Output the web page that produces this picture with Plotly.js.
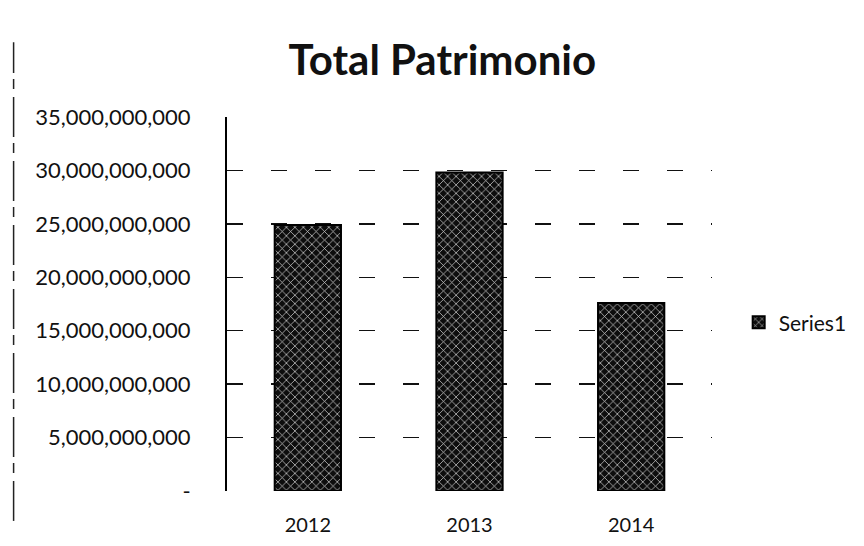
<!DOCTYPE html>
<html>
<head>
<meta charset="utf-8">
<script src="https://cdn.plot.ly/plotly-3.0.1.min.js"></script>
<style>html,body{margin:0;padding:0;background:#fff;}#chart{width:864px;height:546px;}</style>
</head>
<body>
<div id="chart"></div>
<script>
var years = ['2012', '2013', '2014'];
var patrimonio = [24.9e9, 29.8e9, 17.6e9];
var seriesName = 'Series1';
var yTickVals = [0, 5e9, 10e9, 15e9, 20e9, 25e9, 30e9, 35e9];
var yTickText = ['-', '5,000,000,000', '10,000,000,000', '15,000,000,000', '20,000,000,000', '25,000,000,000', '30,000,000,000', '35,000,000,000'];

var FONT = 'Lato, "Open Sans", "DejaVu Sans", sans-serif';

var trace = {
  type: 'bar',
  x: years,
  y: patrimonio,
  name: seriesName,
  showlegend: true,
  width: 0.41,
  marker: {
    color: '#0d0d0d',
    line: {color: '#000', width: 2},
    pattern: {shape: 'x', fgcolor: '#d8d8d8', bgcolor: '#0d0d0d', size: 6, solidity: 0.22}
  },
  hoverinfo: 'x+y'
};

var layout = {
  width: 864,
  height: 546,
  paper_bgcolor: '#fff',
  plot_bgcolor: '#fff',
  margin: {l: 227, r: 143, t: 117, b: 55},
  font: {family: FONT, color: '#111', size: 21},
  title: {
    text: '<b>Total Patrimonio</b>',
    font: {family: FONT, size: 42, color: '#111'},
    xref: 'container', yref: 'container',
    x: 0.512, y: 0.89, xanchor: 'center', yanchor: 'middle'
  },
  bargap: 0.59,
  xaxis: {
    type: 'category',
    showline: false,
    showgrid: false,
    zeroline: false,
    ticks: '',
    ticklabelstandoff: 20,
    tickfont: {family: FONT, size: 20, color: '#111'}
  },
  yaxis: {
    range: [0, 35e9],
    tickvals: yTickVals,
    ticktext: yTickText,
    showline: true,
    linecolor: '#000',
    linewidth: 2,
    zeroline: false,
    showgrid: true,
    gridcolor: '#111',
    gridwidth: 1.5,
    griddash: '16px,28px',
    ticks: '',
    ticklabelstandoff: 30,
    tickfont: {family: FONT, size: 22, color: '#111'}
  },
  legend: {
    x: 1.055, y: 0.45, xanchor: 'left', yanchor: 'middle',
    xref: 'paper', yref: 'paper',
    font: {family: FONT, size: 21, color: '#111'},
    bgcolor: 'rgba(0,0,0,0)',
    itemwidth: 30
  },
  shapes: [{
    type: 'line', xref: 'paper', yref: 'paper',
    x0: -0.44, x1: -0.44, y0: -0.08, y1: 1.2,
    line: {color: '#222', width: 1.5, dash: '40px,8px,10px,6px'}
  }]
};

Plotly.newPlot('chart', [trace], layout, {displayModeBar: false, staticPlot: true});
</script>
</body>
</html>
